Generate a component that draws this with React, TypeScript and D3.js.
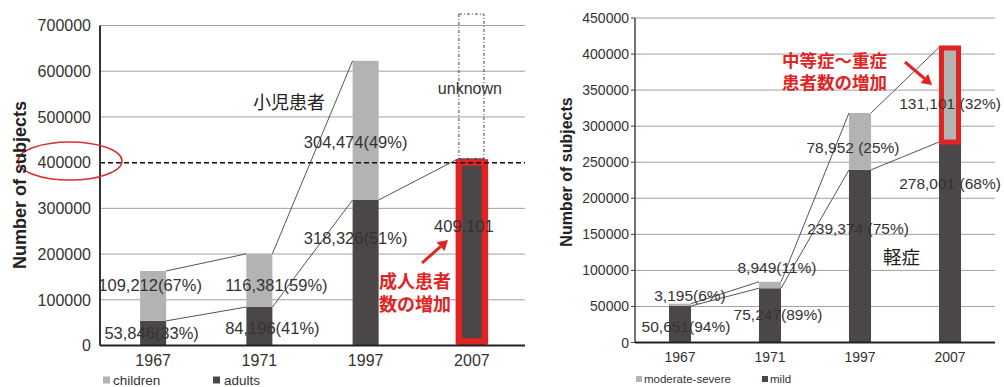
import React from "react";
import * as d3 from "d3";

// ---------- data ----------
const years = ["1967", "1971", "1997", "2007"];

// left chart: children / adults
const childrenVals: (number | null)[] = [109212, 116381, 304474, null];
const adultVals = [53846, 84196, 318326, 409101];
const childLabels = ["109,212(67%)", "116,381(59%)", "304,474(49%)", ""];
const adultLabels = ["53,846(33%)", "84,196(41%)", "318,326(51%)", "409,101"];
const leftTicks = [0, 100000, 200000, 300000, 400000, 500000, 600000, 700000];
const unknownTop = 725000;

// right chart: moderate-severe / mild
const severeVals = [3195, 8949, 78952, 131101];
const mildVals = [50651, 75247, 239374, 278001];
const severeLabels = ["3,195(6%)", "8,949(11%)", "78,952 (25%)", "131,101 (32%)"];
const mildLabels = ["50,651(94%)", "75,247(89%)", "239,374 (75%)", "278,001 (68%)"];
const rightTicks = [0, 50000, 100000, 150000, 200000, 250000, 300000, 350000, 400000, 450000];

// ---------- layout (label placement) ----------
const childLabelPos = [[-3, 285], [17, 285], [-10, 142]];
const adultLabelPos = [[-1.5, 333], [13, 328], [-10, 238], [-8, 226]];
const severeLabelPos = [[10, 295], [7, 267], [-7, 147], [0, 103]];
const mildLabelPos = [[6, 326], [8, 314.5], [-2, 228], [0, 183]];

const FONT = "'Liberation Sans', Arial, sans-serif";
const JP = "'Noto Sans CJK JP', 'Noto Sans', sans-serif";
const LIGHT = "#b3b3b3";
const DARK = "#4b4749";
const RED = "#e02424";
const TXT = "#333";

function Arrow({ x1, y1, x2, y2 }: { x1: number; y1: number; x2: number; y2: number }) {
  const ang = Math.atan2(y2 - y1, x2 - x1);
  const L = 10, W = 6;
  const bx = x2 - L * Math.cos(ang), by = y2 - L * Math.sin(ang);
  const px = -Math.sin(ang) * W, py = Math.cos(ang) * W;
  return (
    <g>
      <line x1={x1} y1={y1} x2={bx} y2={by} stroke={RED} strokeWidth={3} />
      <path d={`M${x2},${y2}L${bx + px},${by + py}L${bx - px},${by - py}Z`} fill={RED} />
    </g>
  );
}

function LeftChart() {
  const x0 = 100, x1 = 525;
  const x = d3.scaleBand<string>().domain(years).range([x0, x1]).paddingInner(0.755).paddingOuter(0.3775);
  const y = d3.scaleLinear().domain([0, 700000]).range([345.5, 25.5]);
  const bw = x.bandwidth();
  const cx = (i: number) => (x(years[i]) as number) + bw / 2;
  const totals = adultVals.map((a, i) => a + (childrenVals[i] ?? 0));

  const links: JSX.Element[] = [];
  for (let i = 0; i < 3; i++) {
    const xa = (x(years[i]) as number) + bw;
    const xb = x(years[i + 1]) as number;
    links.push(<line key={"a" + i} x1={xa} y1={y(adultVals[i])} x2={xb} y2={y(adultVals[i + 1])} stroke="#555" strokeWidth={1} />);
    if (childrenVals[i + 1] != null) {
      links.push(<line key={"c" + i} x1={xa} y1={y(totals[i])} x2={xb} y2={y(totals[i + 1])} stroke="#555" strokeWidth={1} />);
    }
  }

  return (
    <g fontFamily={FONT}>
      {leftTicks.filter((t) => t !== 0 && t !== 400000).map((t) => (
        <line key={t} x1={x0} x2={x1} y1={y(t)} y2={y(t)} stroke="#a0a0a0" strokeWidth={1} />
      ))}
      {leftTicks.map((t) => (
        <text key={t} x={x0 - 9} y={y(t)} dy="0.36em" textAnchor="end" fontSize={16} fill={TXT}>{t}</text>
      ))}
      {/* red annotation text (behind bars) */}
      <text x={379} y={282} dy="0.36em" fontFamily={JP} fontSize={18} fontWeight={700} fill={RED}>成人患者</text>
      <text x={379} y={304.5} dy="0.36em" fontFamily={JP} fontSize={18} fontWeight={700} fill={RED}>数の増加</text>
      {years.map((yr, i) => (
        <g key={yr}>
          <rect x={x(yr)} y={y(adultVals[i])} width={bw} height={y(0) - y(adultVals[i])} fill={DARK} />
          {childrenVals[i] != null && (
            <rect x={x(yr)} y={y(totals[i])} width={bw} height={y(adultVals[i]) - y(totals[i])} fill={LIGHT} />
          )}
        </g>
      ))}
      {/* unknown dashed box */}
      <rect x={x("2007")} y={y(unknownTop)} width={bw - 1} height={y(adultVals[3]) - y(unknownTop)} fill="none" stroke="#444" strokeWidth={1} strokeDasharray="3 2 1 2" />
      <text x={cx(3) - 2} y={88} dy="0.36em" textAnchor="middle" fontSize={16} fill={TXT}>unknown</text>
      {/* red box around 2007 */}
      <rect x={x("2007")} y={y(adultVals[3]) + 4} width={bw} height={y(0) - y(adultVals[3]) - 8} fill="none" stroke={RED} strokeWidth={6.5} />
      {links}
      {/* 400000 dashed line */}
      <line x1={x0} x2={x1} y1={y(400000)} y2={y(400000)} stroke="#111" strokeWidth={1.5} strokeDasharray="5 3" />
      {/* axes */}
      <line x1={x0} x2={x0} y1={y(700000)} y2={y(0)} stroke="#333" strokeWidth={2} />
      <line x1={x0} x2={x1} y1={y(0)} y2={y(0)} stroke="#222" strokeWidth={2} />
      {years.map((yr, i) => (
        <text key={yr} x={cx(i)} y={360} dy="0.36em" textAnchor="middle" fontSize={16} fill={TXT}>{yr}</text>
      ))}
      {/* labels */}
      {childLabelPos.map((p, i) => (
        <text key={"cl" + i} x={cx(i) + p[0]} y={p[1]} dy="0.36em" textAnchor="middle" fontSize={16.5} fill={TXT}>{childLabels[i]}</text>
      ))}
      {adultLabelPos.map((p, i) => (
        <text key={"al" + i} x={cx(i) + p[0]} y={p[1]} dy="0.36em" textAnchor="middle" fontSize={16.5} fill={TXT}>{adultLabels[i]}</text>
      ))}
      <text x={253} y={103} dy="0.36em" fontFamily={JP} fontSize={18} fill="#222">小児患者</text>
      <Arrow x1={422} y1={263} x2={448} y2={240} />
      <ellipse cx={70} cy={161} rx={52} ry={19} fill="none" stroke="#d83030" strokeWidth={1.5} />
      <text transform={`translate(26,${185}) rotate(-90)`} textAnchor="middle" fontSize={18} fontWeight={700} fill="#222">Number of subjects</text>
      {/* legend */}
      <rect x={103} y={376.5} width={7} height={7} fill={LIGHT} />
      <text x={113} y={380} dy="0.34em" fontSize={13.5} fill={TXT}>children</text>
      <rect x={213} y={376.5} width={7} height={7} fill={DARK} />
      <text x={224} y={380} dy="0.34em" fontSize={13.5} fill={TXT}>adults</text>
    </g>
  );
}

function RightChart() {
  const x0 = 635, x1 = 995;
  const x = d3.scaleBand<string>().domain(years).range([x0, x1]).paddingInner(0.755).paddingOuter(0.3775);
  const y = d3.scaleLinear().domain([0, 450000]).range([342.5, 18]);
  const bw = x.bandwidth();
  const cx = (i: number) => (x(years[i]) as number) + bw / 2;
  const totals = mildVals.map((m, i) => m + severeVals[i]);

  const links: JSX.Element[] = [];
  for (let i = 0; i < 3; i++) {
    const xa = (x(years[i]) as number) + bw;
    const xb = x(years[i + 1]) as number;
    links.push(<line key={"m" + i} x1={xa} y1={y(mildVals[i])} x2={xb} y2={y(mildVals[i + 1])} stroke="#555" strokeWidth={1} />);
    links.push(<line key={"s" + i} x1={xa} y1={y(totals[i])} x2={xb} y2={y(totals[i + 1])} stroke="#555" strokeWidth={1} />);
  }

  return (
    <g fontFamily={FONT}>
      {rightTicks.filter((t) => t !== 0).map((t) => (
        <line key={t} x1={x0} x2={x1} y1={y(t)} y2={y(t)} stroke="#a0a0a0" strokeWidth={1} />
      ))}
      {rightTicks.map((t) => (
        <g key={t}>
          <line x1={x0 - 4} x2={x0} y1={y(t)} y2={y(t)} stroke="#444" strokeWidth={1} />
          <text x={x0 - 6} y={y(t)} dy="0.36em" textAnchor="end" fontSize={14} fill={TXT}>{t}</text>
        </g>
      ))}
      {years.map((yr, i) => (
        <g key={yr}>
          <rect x={x(yr)} y={y(mildVals[i])} width={bw} height={y(0) - y(mildVals[i])} fill={DARK} />
          <rect x={x(yr)} y={y(totals[i])} width={bw} height={y(mildVals[i]) - y(totals[i])} fill={LIGHT} />
        </g>
      ))}
      <rect x={(x("2007") as number) + 2.5} y={y(totals[3]) + 0.5} width={bw - 5} height={y(mildVals[3]) - y(totals[3]) - 0.5} fill="none" stroke={RED} strokeWidth={5} />
      {links}
      <line x1={x0} x2={x0} y1={y(450000)} y2={y(0)} stroke="#444" strokeWidth={1.5} />
      <line x1={x0} x2={x1} y1={y(0)} y2={y(0)} stroke="#222" strokeWidth={2} />
      {years.map((yr, i) => (
        <text key={yr} x={cx(i)} y={357} dy="0.36em" textAnchor="middle" fontSize={14} fill={TXT}>{yr}</text>
      ))}
      {severeLabelPos.map((p, i) => (
        <text key={"sl" + i} x={cx(i) + p[0]} y={p[1]} dy="0.36em" textAnchor="middle" fontSize={15.5} fill={TXT}>{severeLabels[i]}</text>
      ))}
      {mildLabelPos.map((p, i) => (
        <text key={"ml" + i} x={cx(i) + p[0]} y={p[1]} dy="0.36em" textAnchor="middle" fontSize={15.5} fill={TXT}>{mildLabels[i]}</text>
      ))}
      <text x={782} y={61} dy="0.36em" fontFamily={JP} fontSize={17.5} fontWeight={700} fill={RED}>中等症～重症</text>
      <text x={782} y={83} dy="0.36em" fontFamily={JP} fontSize={17.5} fontWeight={700} fill={RED}>患者数の増加</text>
      <Arrow x1={905} y1={62} x2={932} y2={85} />
      <text x={883} y={257} dy="0.36em" fontFamily={JP} fontSize={18.5} fill="#222">軽症</text>
      <text transform={`translate(572,${172}) rotate(-90)`} textAnchor="middle" fontSize={16} fontWeight={700} fill="#222">Number of subjects</text>
      <rect x={636} y={376} width={6} height={6} fill={LIGHT} />
      <text x={644} y={379} dy="0.34em" fontSize={11.5} fill={TXT}>moderate-severe</text>
      <rect x={762} y={376} width={6} height={6} fill={DARK} />
      <text x={770} y={379} dy="0.34em" fontSize={11.5} fill={TXT}>mild</text>
    </g>
  );
}

export default function App() {
  return (
    <svg width={1004} height={387} style={{ position: "absolute", left: 0, top: 0, background: "#fff" }}>
      <rect width={1004} height={387} fill="#fff" />
      <LeftChart />
      <RightChart />
    </svg>
  );
}
